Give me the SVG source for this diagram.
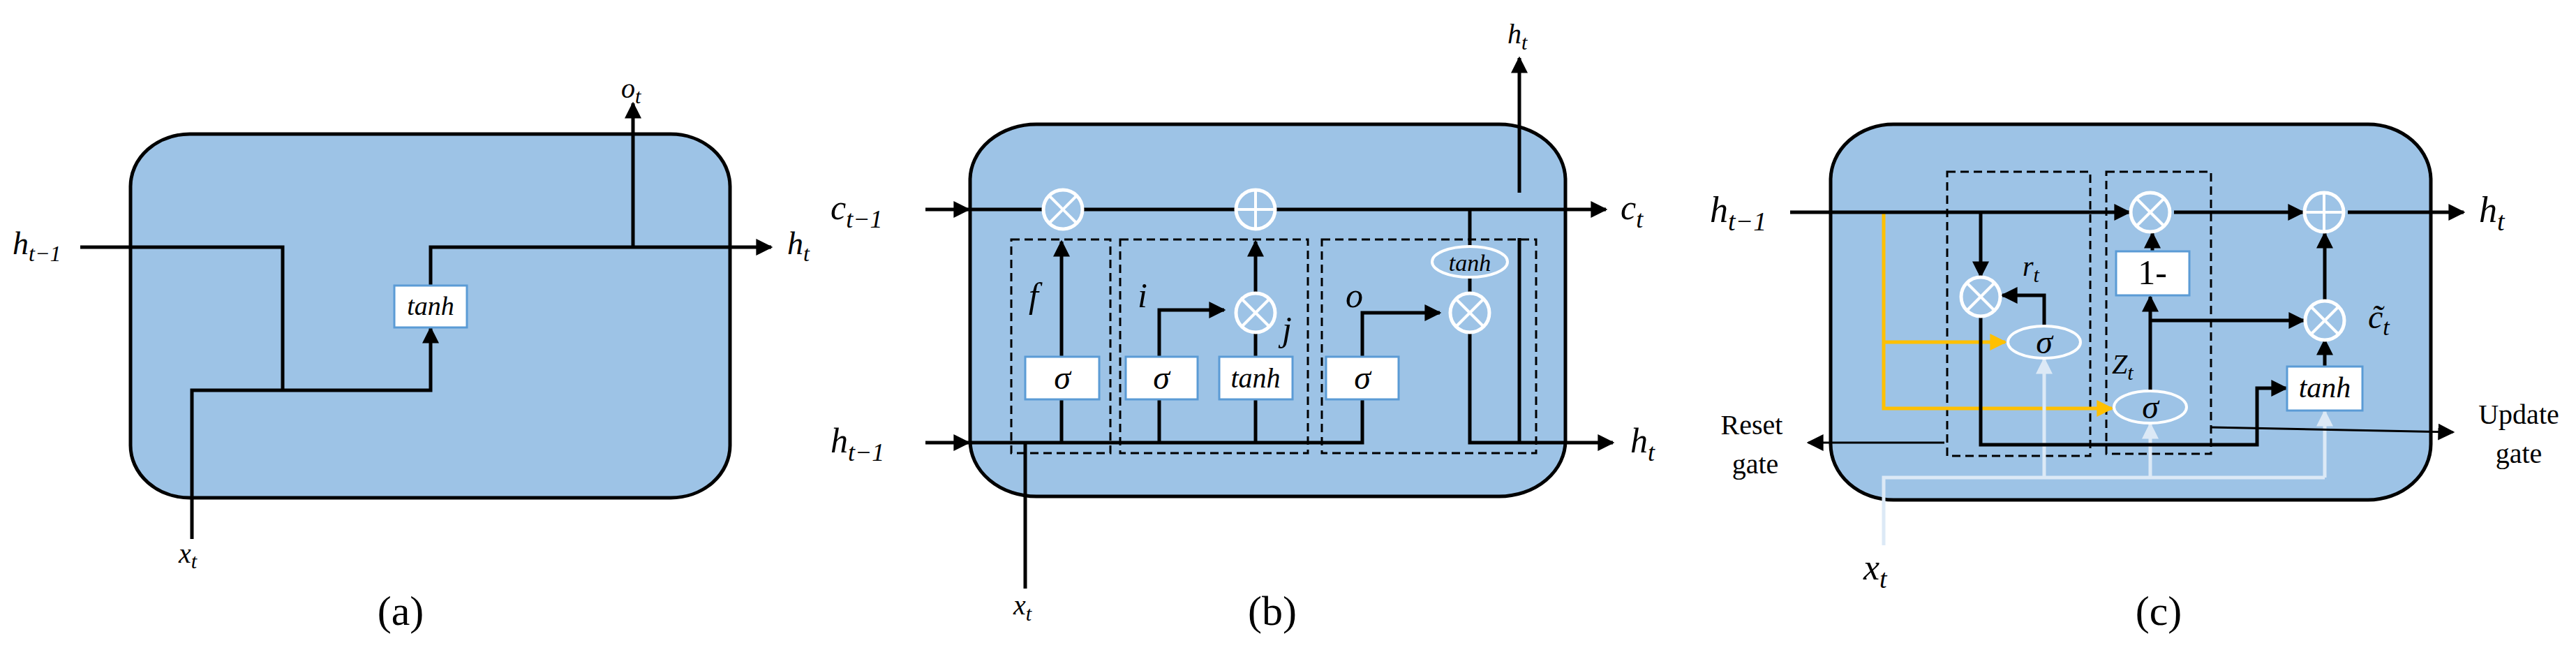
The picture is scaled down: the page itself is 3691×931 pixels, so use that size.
<svg xmlns="http://www.w3.org/2000/svg" width="3691" height="931" viewBox="0 0 3691 931">
<style>
.cell{fill:#9DC3E6;stroke:#000;stroke-width:5}
.w{fill:none;stroke:#000;stroke-width:5}
.y{fill:none;stroke:#FFC000;stroke-width:5}
.lt{fill:none;stroke:#DCE9F6;stroke-width:5}
.thin{fill:none;stroke:#000;stroke-width:3}
.dash{fill:none;stroke:#000;stroke-width:3;stroke-dasharray:12 7}
.box{fill:#fff;stroke:#5B9BD5;stroke-width:3}
.op{fill:#9DC3E6;stroke:#fff;stroke-width:5}
.opl{stroke:#fff;stroke-width:4}
.m{font-family:"Liberation Serif","DejaVu Serif",serif;font-style:italic;fill:#000}
.r{font-family:"Liberation Serif","DejaVu Serif",serif;fill:#000}
</style>
<defs>
<marker id="a" viewBox="0 0 10 10" refX="9" refY="5" markerWidth="24" markerHeight="24" markerUnits="userSpaceOnUse" orient="auto"><path d="M0,0L10,5L0,10z" fill="#000"/></marker>
<marker id="ay" viewBox="0 0 10 10" refX="9" refY="5" markerWidth="24" markerHeight="24" markerUnits="userSpaceOnUse" orient="auto"><path d="M0,0L10,5L0,10z" fill="#FFC000"/></marker>
<marker id="al" viewBox="0 0 10 10" refX="9" refY="5" markerWidth="24" markerHeight="24" markerUnits="userSpaceOnUse" orient="auto"><path d="M0,0L10,5L0,10z" fill="#DCE9F6"/></marker>
<g id="mul"><circle r="28" class="op"/><line x1="-19" y1="-19" x2="19" y2="19" class="opl"/><line x1="19" y1="-19" x2="-19" y2="19" class="opl"/></g>
<g id="add"><circle r="28" class="op"/><line x1="-28" y1="0" x2="28" y2="0" class="opl"/><line x1="0" y1="-28" x2="0" y2="28" class="opl"/></g>
</defs>

<!-- Panel a -->
<g id="cell-a"><rect x="187" y="192" width="859" height="521" rx="85" ry="75" class="cell"/></g>
<g id="connectors-a">
<path d="M115,354H405V559" class="w"/>
<path d="M275,772V559H617V470" class="w" marker-end="url(#a)"/>
<path d="M617,409V354H1105" class="w" marker-end="url(#a)"/>
<path d="M907,354V148" class="w" marker-end="url(#a)"/>
</g>
<g id="tanh-a"><rect x="565" y="409" width="104" height="60" class="box"/><text x="617" y="451" class="m" font-size="38" text-anchor="middle">tanh</text></g>
<text x="18" y="364" class="m" font-size="46">h<tspan font-size="32" dy="10">t−1</tspan></text>
<text x="1128" y="364" class="m" font-size="46">h<tspan font-size="32" dy="10">t</tspan></text>
<text x="890" y="140" class="m" font-size="40">o<tspan font-size="30" dy="8">t</tspan></text>
<text x="256" y="806" class="m" font-size="40">x<tspan font-size="30" dy="8">t</tspan></text>
<text x="574" y="895" class="r" font-size="60" text-anchor="middle">(a)</text>

<!-- Panel b -->
<g id="cell-b"><rect x="1390" y="178" width="853" height="533" rx="95" ry="80" class="cell"/></g>
<g id="dashed-b">
<rect x="1449" y="343" width="142" height="306" class="dash"/>
<rect x="1605" y="343" width="269" height="306" class="dash"/>
<rect x="1894" y="343" width="307" height="306" class="dash"/>
</g>
<g id="connectors-b">
<path d="M1326,300H1388" class="w" marker-end="url(#a)"/>
<path d="M1326,634H1388" class="w" marker-end="url(#a)"/>
<path d="M1388,300H2301" class="w" marker-end="url(#a)"/>
<path d="M1388,634H1952V448H2063" class="w" marker-end="url(#a)"/>
<path d="M1469,843V634" class="w"/>
<path d="M1521,634V346" class="w" marker-end="url(#a)"/>
<path d="M1661,572V444H1754" class="w" marker-end="url(#a)"/>
<path d="M1661,634V572" class="w"/>
<path d="M1799,634V476" class="w"/>
<path d="M1799,420V346" class="w" marker-end="url(#a)"/>
<path d="M2106,300V353" class="w"/>
<path d="M2106,397V420" class="w"/>
<path d="M2106,476V634H2311" class="w" marker-end="url(#a)"/>
<path d="M2177,341V634" class="w"/>
<path d="M2177,276V83" class="w" marker-end="url(#a)"/>
</g>
<g id="f-sig"><rect x="1469" y="511" width="106" height="61" class="box"/><text x="1522" y="557" class="m" font-size="48" text-anchor="middle">σ</text></g>
<g id="i-sig"><rect x="1613" y="511" width="103" height="61" class="box"/><text x="1664" y="557" class="m" font-size="48" text-anchor="middle">σ</text></g>
<g id="j-tanh"><rect x="1747" y="511" width="105" height="61" class="box"/><text x="1799" y="555" class="m" font-size="40" text-anchor="middle">tanh</text></g>
<g id="o-sig"><rect x="1900" y="511" width="104" height="61" class="box"/><text x="1952" y="557" class="m" font-size="48" text-anchor="middle">σ</text></g>
<g id="tanh-ell"><ellipse cx="2106" cy="375" rx="54" ry="22" fill="#9DC3E6" stroke="#fff" stroke-width="4"/><text x="2106" y="388" class="m" font-size="34" text-anchor="middle">tanh</text></g>
<use href="#mul" x="1523" y="300"/>
<use href="#add" x="1799" y="300"/>
<use href="#mul" x="1799" y="448"/>
<use href="#mul" x="2106" y="448"/>
<text x="1474" y="440" class="m" font-size="50">f</text>
<text x="1630" y="440" class="m" font-size="50">i</text>
<text x="1837" y="488" class="m" font-size="50">j</text>
<text x="1928" y="440" class="m" font-size="50">o</text>
<text x="1190" y="314" class="m" font-size="50">c<tspan font-size="36" dy="12">t−1</tspan></text>
<text x="1190" y="648" class="m" font-size="50">h<tspan font-size="36" dy="12">t−1</tspan></text>
<text x="2322" y="314" class="m" font-size="50">c<tspan font-size="36" dy="12">t</tspan></text>
<text x="2336" y="648" class="m" font-size="50">h<tspan font-size="36" dy="12">t</tspan></text>
<text x="2160" y="62" class="m" font-size="40">h<tspan font-size="30" dy="9">t</tspan></text>
<text x="1452" y="880" class="m" font-size="40">x<tspan font-size="30" dy="9">t</tspan></text>
<text x="1823" y="895" class="r" font-size="60" text-anchor="middle">(b)</text>

<!-- Panel c -->
<g id="cell-c"><rect x="2623" y="178" width="860" height="538" rx="90" ry="80" class="cell"/></g>
<g id="dashed-c">
<rect x="2790" y="246" width="205" height="407" class="dash"/>
<rect x="3018" y="246" width="150" height="404" class="dash"/>
</g>
<g id="connectors-c">
<path d="M2699,304V585H3026" class="y" marker-end="url(#ay)"/>
<path d="M2699,490H2873" class="y" marker-end="url(#ay)"/>
<path d="M2699,781V684H3331" class="lt"/>
<path d="M2929,684V514" class="lt" marker-end="url(#al)"/>
<path d="M3081,684V607" class="lt" marker-end="url(#al)"/>
<path d="M3331,684V589" class="lt" marker-end="url(#al)"/>
<path d="M2565,304H3051" class="w" marker-end="url(#a)"/>
<path d="M3115,304H3300" class="w" marker-end="url(#a)"/>
<path d="M3364,304H3530" class="w" marker-end="url(#a)"/>
<path d="M2838,304V396" class="w" marker-end="url(#a)"/>
<path d="M2929,467V423H2869" class="w" marker-end="url(#a)"/>
<path d="M2838,453V637H3234V556H3276" class="w" marker-end="url(#a)"/>
<path d="M3331,525V487" class="w" marker-end="url(#a)"/>
<path d="M3331,429V334" class="w" marker-end="url(#a)"/>
<path d="M3081,560V425" class="w" marker-end="url(#a)"/>
<path d="M3081,459H3301" class="w" marker-end="url(#a)"/>
<path d="M3084,360V334" class="w" marker-end="url(#a)"/>
<path d="M2786,634H2591" class="thin" marker-end="url(#a)"/>
<path d="M3168,612L3515,619" class="thin" marker-end="url(#a)"/>
</g>
<use href="#mul" x="3081" y="304"/>
<use href="#add" x="3330" y="304"/>
<use href="#mul" x="2838" y="425"/>
<use href="#mul" x="3331" y="459"/>
<g id="sig-r"><ellipse cx="2929" cy="490" rx="52" ry="23" fill="#9DC3E6" stroke="#fff" stroke-width="4"/><text x="2929" y="506" class="m" font-size="48" text-anchor="middle">σ</text></g>
<g id="sig-z"><ellipse cx="3081" cy="583" rx="52" ry="23" fill="#9DC3E6" stroke="#fff" stroke-width="4"/><text x="3081" y="599" class="m" font-size="48" text-anchor="middle">σ</text></g>
<g id="one-minus"><rect x="3032" y="360" width="105" height="63" class="box"/><text x="3084" y="407" class="r" font-size="50" text-anchor="middle">1-</text></g>
<g id="tanh-c"><rect x="3277" y="525" width="108" height="63" class="box"/><text x="3331" y="569" class="m" font-size="42" text-anchor="middle">tanh</text></g>
<text x="2898" y="395" class="m" font-size="40">r<tspan font-size="30" dy="9">t</tspan></text>
<text x="3026" y="535" class="m" font-size="40">Z<tspan font-size="30" dy="9">t</tspan></text>
<text x="3393" y="470" class="m" font-size="48">c̃<tspan font-size="34" dy="10">t</tspan></text>
<text x="2450" y="318" class="m" font-size="52">h<tspan font-size="38" dy="12">t−1</tspan></text>
<text x="3552" y="318" class="m" font-size="52">h<tspan font-size="38" dy="12">t</tspan></text>
<text x="2670" y="830" class="m" font-size="52">x<tspan font-size="38" dy="12">t</tspan></text>
<text x="2510" y="622" class="r" font-size="40" text-anchor="middle">Reset</text>
<text x="2515" y="678" class="r" font-size="40" text-anchor="middle">gate</text>
<text x="3609" y="607" class="r" font-size="40" text-anchor="middle">Update</text>
<text x="3609" y="663" class="r" font-size="40" text-anchor="middle">gate</text>
<text x="3093" y="895" class="r" font-size="60" text-anchor="middle">(c)</text>
</svg>
